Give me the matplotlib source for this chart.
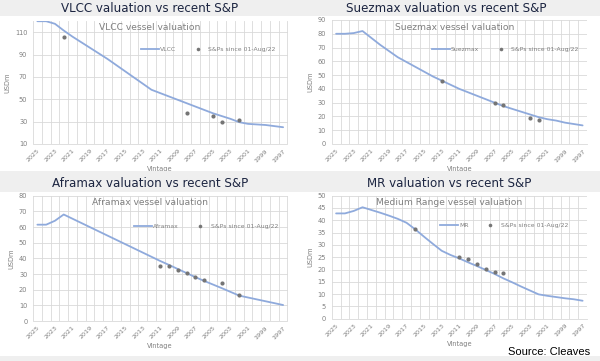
import numpy as np
import matplotlib
matplotlib.use("Agg")
import matplotlib.pyplot as plt
from matplotlib.patches import Rectangle
from matplotlib.lines import Line2D

years = list(range(2025, 1996, -1))
tick_years = list(range(2025, 1996, -2))

vlcc_vals = [119.8, 119.8, 117.5, 111.5, 106, 101, 96, 91, 86, 80.5, 75, 69.5, 64, 58.5,
             55.5, 52.5, 49.5, 46.5, 43.5, 40.5, 37.5, 35, 32.5, 29.5, 28, 27.5, 27, 26, 25]
vlcc_sp_years = [2022, 2008, 2005, 2004, 2002]
vlcc_sp_vals = [105.5, 37.5, 35.4, 30, 31.8]

suez_vals = [80, 80, 80.5, 82, 77, 72, 67.5, 63, 59.5, 56, 52.5, 49, 46, 43, 40, 37.5, 35,
             32.5, 30, 27.5, 25.5, 23.5, 21.5, 19.5, 18, 17, 15.5, 14.5, 13.5]
suez_sp_years = [2013, 2007, 2006, 2003, 2002]
suez_sp_vals = [45.5, 29.5, 28.3, 19.1, 17.4]

afra_vals = [61.5, 61.5, 64, 68, 65.3, 62.6, 59.9, 57.2, 54.5, 51.8, 49.1, 46.4, 43.7, 41,
             38.3, 35.8, 33.2, 30.6, 28, 25.6, 23.3, 21, 18.6, 16.2, 15, 13.8, 12.6, 11.4, 10.2]
afra_sp_years = [2011, 2010, 2009, 2008, 2007, 2006, 2004, 2002]
afra_sp_vals = [35.3, 35.3, 32.8, 30.4, 27.9, 26, 24, 16.4]

mr_vals = [42.8, 42.8, 43.8, 45.3, 44.2, 43.1, 41.9, 40.6, 39, 36.3, 33.3, 30.4, 27.6, 25.9,
           24.5, 22.9, 21.4, 19.8, 18.2, 16.4, 14.8, 13.1, 11.5, 9.9, 9.3, 8.8, 8.3, 7.9, 7.3]
mr_sp_years = [2016, 2011, 2010, 2009, 2008, 2007, 2006]
mr_sp_vals = [36.4, 25, 24.1, 22.1, 20.2, 19, 18.7]

W, H = 600, 361
fig = plt.figure(figsize=(6, 3.61), dpi=100)
fig.patch.set_facecolor("white")

def fx(x):
    return x / W

def fy(y):
    return 1 - y / H

# gray title bands
for (y0, y1) in [(0, 16), (171, 192), (356, 361)]:
    fig.patches.append(Rectangle((0, fy(y1)), 1, (y1 - y0) / H, transform=fig.transFigure,
                                 facecolor="#efefef", edgecolor="none", zorder=0))

LINE_C = "#8faadc"
DOT_C = "#757575"
TXT_C = "#808080"
TITLE_C = "#1c2541"
FONT = "DejaVu Sans"

panels = [
    dict(name="VLCC", title="VLCC valuation vs recent S&P", sub="VLCC vessel valuation",
         vals=vlcc_vals, spy=vlcc_sp_years, spv=vlcc_sp_vals, ylim=(10, 120),
         yticks=list(range(10, 111, 20)),
         box=(33, 287.5, 21, 144), title_xy=(150, 8), sub_xy=(150, 28), leg_xy=(208, 49)),
    dict(name="Suezmax", title="Suezmax valuation vs recent S&P", sub="Suezmax vessel valuation",
         vals=suez_vals, spy=suez_sp_years, spv=suez_sp_vals, ylim=(0, 90),
         yticks=list(range(0, 91, 10)),
         box=(331.7, 587, 20, 144), title_xy=(446, 8), sub_xy=(455, 28), leg_xy=(505, 49)),
    dict(name="Aframax", title="Aframax valuation vs recent S&P", sub="Aframax vessel valuation",
         vals=afra_vals, spy=afra_sp_years, spv=afra_sp_vals, ylim=(0, 80),
         yticks=list(range(0, 81, 10)),
         box=(33, 287.5, 195.7, 321), title_xy=(150, 183), sub_xy=(150, 203), leg_xy=(206, 226)),
    dict(name="MR", title="MR valuation vs recent S&P", sub="Medium Range vessel valuation",
         vals=mr_vals, spy=mr_sp_years, spv=mr_sp_vals, ylim=(0, 50),
         yticks=list(range(0, 51, 5)),
         box=(331.7, 587, 195.7, 318.7), title_xy=(449, 183), sub_xy=(449, 203), leg_xy=(504, 225)),
]

for p in panels:
    x0, x1, y0, y1 = p["box"]
    ax = fig.add_axes([fx(x0), fy(y1), (x1 - x0) / W, (y1 - y0) / H])
    ax.set_facecolor("white")
    ax.plot(years, p["vals"], color=LINE_C, lw=1.3, zorder=3, solid_capstyle="round")
    ax.scatter(p["spy"], p["spv"], s=9, color=DOT_C, zorder=4, linewidths=0)
    ax.set_xlim(2025.5, 1996.5)
    ax.set_ylim(*p["ylim"])
    ax.set_yticks(p["yticks"])
    ax.set_xticks(tick_years)
    ax.set_xticklabels([str(y) for y in tick_years], rotation=45, ha="right",
                       rotation_mode="anchor", fontsize=4.6, color=TXT_C, family=FONT)
    ax.set_xticks(np.arange(1996.5, 2026, 1), minor=True)
    ax.tick_params(axis="x", which="both", length=0, pad=3)
    ax.tick_params(axis="y", length=0, pad=4, labelsize=4.8, labelcolor=TXT_C)
    for lab in ax.get_yticklabels():
        lab.set_family(FONT)
    ax.grid(True, which="minor", axis="x", color="#d9d9d9", lw=0.6)
    ax.grid(True, which="major", axis="y", color="#d9d9d9", lw=0.6)
    ax.set_axisbelow(True)
    for s in ["top", "right", "left"]:
        ax.spines[s].set_visible(False)
    ax.spines["bottom"].set_color("#d9d9d9")
    ax.spines["bottom"].set_linewidth(0.6)
    ax.set_ylabel("USDm", fontsize=4.8, color=TXT_C, family=FONT, labelpad=3)
    ax.set_xlabel("Vintage", fontsize=4.8, color=TXT_C, family=FONT, labelpad=2)

    fig.text(fx(p["title_xy"][0]), fy(p["title_xy"][1]), p["title"], ha="center", va="center",
             fontsize=8.6, color=TITLE_C, family=FONT)
    fig.text(fx(p["sub_xy"][0]), fy(p["sub_xy"][1]), p["sub"], ha="center", va="center",
             fontsize=6.6, color="#7f7f7f", family=FONT)
    handles = [Line2D([], [], color=LINE_C, lw=1.3),
               Line2D([], [], color=DOT_C, marker="o", ls="none", markersize=2.6, mec="none")]
    fig.legend(handles, [p["name"], "S&Ps since 01-Aug/22"], loc="center",
               bbox_to_anchor=(fx(p["leg_xy"][0]), fy(p["leg_xy"][1])), ncol=2, frameon=False,
               prop=dict(family=FONT, size=4.4), labelcolor=TXT_C, handlelength=3.0,
               handletextpad=0.2, columnspacing=2.0, borderaxespad=0, borderpad=0)

fig.text(fx(590), fy(352), "Source: Cleaves", ha="right", va="center", fontsize=8,
         color="black", family="Liberation Sans")

fig.savefig("out.png", dpi=100, facecolor=fig.get_facecolor())
